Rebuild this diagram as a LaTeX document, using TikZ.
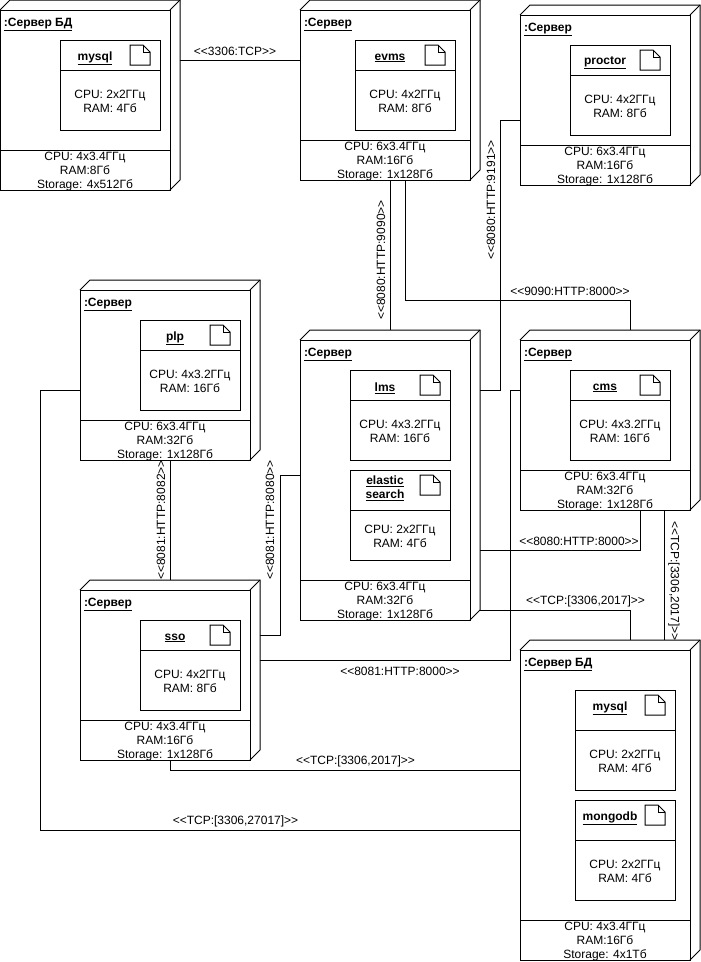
\documentclass[tikz,border=0pt]{standalone}
\usepackage{fontspec}
\setmainfont{Liberation Sans}
\newcommand{\srvnode}[8]{
  \node[srvface,minimum height=#4pt] (#1face) at (#2,#3+10) {};
  \node[srvouter,minimum height=#4pt+10pt] (#1) at (#2,#3) {};
  \draw (#1face.north west) -- ++(10,-10) -- (#1.north east) -- ++(0,#4) -- (#1face.south east);
  \draw (#1face.north east) -- (#1.north east);
  \draw (#1face.south west) ++(0,-40) -- ++(170,0);
  \node[srvtitle] (#1title) at (#2+4,#3+26) {\underline{\textbf{#5}}};
  \node[align=center] (#1spec) at ([yshift=18.5pt]#1face.south) {CPU: #6\\RAM:#7\\Storage: #8};
}
\newcommand{\artnode}[8]{
  \node[artbox,minimum height=#4pt+#5pt] (#1) at (#2,#3) {};
  \draw (#2,#3+#4) -- ++(100,0);
  \node[align=center] (#1title) at (#2+35,#3+18) {#6};
  \draw (#2+70,#3+5) -- (#2+83,#3+5) -- (#2+90,#3+12) -- (#2+90,#3+25) -- (#2+70,#3+25) -- cycle;
  \draw (#2+83,#3+5) -- (#2+83,#3+12) -- (#2+90,#3+12);
  \node[align=center] (#1spec) at (#2+50,#3+#4+#5/2+1.5) {CPU: #7\\RAM: #8};
}
\begin{document}
\begin{tikzpicture}[x=1pt,y=-1pt,line width=1pt,
  every node/.style={font=\fontsize{12}{14}\selectfont,inner sep=0pt,outer sep=0pt},
  srvface/.style={draw,anchor=north west,minimum width=170pt},
  srvouter/.style={anchor=north west,minimum width=180pt},
  srvtitle/.style={anchor=base west},
  artbox/.style={draw,anchor=north west,minimum width=100pt},
  toplabel/.style={anchor=center},
  uplabel/.style={rotate=90},
  downlabel/.style={rotate=-90}]
\useasboundingbox (0,0) rectangle (701,962);

\srvnode{dbA}{0}{0}{180}{:Сервер БД}{4x3.4ГГц}{8Гб}{4x512Гб}
\artnode{mysqlA}{60}{40}{30}{60}{\underline{\textbf{mysql}}}{2x2ГГц}{4Гб}

\srvnode{evmssrv}{300}{0}{170}{:Сервер}{6x3.4ГГц}{16Гб}{1x128Гб}
\artnode{evms}{355}{40}{30}{60}{\underline{\textbf{evms}}}{4x2ГГц}{8Гб}

\srvnode{proctorsrv}{520}{5}{170}{:Сервер}{6x3.4ГГц}{16Гб}{1x128Гб}
\artnode{proctor}{570}{45}{30}{60}{\underline{\textbf{proctor}}}{4x2ГГц}{8Гб}

\srvnode{plpsrv}{80}{280}{170}{:Сервер}{6x3.4ГГц}{32Гб}{1x128Гб}
\artnode{plp}{140}{320}{30}{60}{\underline{\textbf{plp}}}{4x3.2ГГц}{16Гб}

\srvnode{lmssrv}{300}{330}{280}{:Сервер}{6x3.4ГГц}{32Гб}{1x128Гб}
\artnode{lms}{350}{370}{30}{60}{\underline{\textbf{lms}}}{4x3.2ГГц}{16Гб}
\artnode{elastic}{350}{470}{40}{50}{\underline{\textbf{elastic}}\\\underline{\textbf{search}}}{2x2ГГц}{4Гб}

\srvnode{cmssrv}{520}{330}{170}{:Сервер}{6x3.4ГГц}{32Гб}{1x128Гб}
\artnode{cms}{570}{370}{30}{60}{\underline{\textbf{cms}}}{4x3.2ГГц}{16Гб}

\srvnode{ssosrv}{80}{580}{170}{:Сервер}{4x3.4ГГц}{16Гб}{1x128Гб}
\artnode{sso}{140}{620}{30}{60}{\underline{\textbf{sso}}}{4x2ГГц}{8Гб}

\srvnode{dbB}{520}{640}{310}{:Сервер БД}{4x3.4ГГц}{16Гб}{4x1Тб}
\artnode{mysqlB}{575}{690}{40}{60}{\underline{\textbf{mysql}}}{2x2ГГц}{4Гб}
\artnode{mongodb}{575}{800}{40}{60}{\underline{\textbf{mongodb}}}{2x2ГГц}{4Гб}

\draw (dbA.east |- 0,60) -- (evmssrv.west |- 0,60);
\draw (evmssrv.south) -- (lmssrv.north);
\draw (evmssrv.south -| 405,0) -- (405,300) -- (630,300) -- (cmssrv.north -| 630,0);
\draw (proctorsrv.west |- 0,120) -- (500,120) -- (500,390) -- (lmssrv.east |- 0,390);
\draw (plpsrv.south) -- (ssosrv.north);
\draw (ssosrv.east |- 0,635) -- (280,635) -- (280,475) -- (lmssrv.west |- 0,475);
\draw (ssosrv.east |- 0,660) -- (510,660) -- (510,390) -- (cmssrv.west |- 0,390);
\draw (lmssrv.east |- 0,550) -- (640,550) -- (cmssrv.south -| 640,0);
\draw (lmssrv.east |- 0,610) -- (630,610) -- (dbB.north -| 630,0);
\draw (cmssrv.south -| 664,0) -- (dbB.north -| 664,0);
\draw (ssosrv.south) -- (170,770) -- (dbB.west |- 0,770);
\draw (plpsrv.west |- 0,390) -- (40,390) -- (40,830) -- (dbB.west |- 0,830);

\node[toplabel] (lblA) at (235,51) {<{}<3306:TCP>{}>};
\node[uplabel] (lblB) at (381,260) {<{}<8080:HTTP:9090>{}>};
\node[toplabel] (lblC) at (570,291) {<{}<9090:HTTP:8000>{}>};
\node[uplabel] (lblD) at (491,200) {<{}<8080:HTTP:9191>{}>};
\node[uplabel] (lblE) at (161,520) {<{}<8081:HTTP:8082>{}>};
\node[uplabel] (lblF) at (270,520) {<{}<8081:HTTP:8080>{}>};
\node[toplabel] (lblG) at (400,671) {<{}<8081:HTTP:8000>{}>};
\node[toplabel] (lblH) at (579,541) {<{}<8080:HTTP:8000>{}>};
\node[toplabel] (lblI) at (585.5,601) {<{}<TCP:[3306,2017]>{}>};
\node[downlabel] (lblJ) at (674,581) {<{}<TCP:[3306,2017]>{}>};
\node[toplabel] (lblK) at (355.5,761) {<{}<TCP:[3306,2017]>{}>};
\node[toplabel] (lblL) at (235.5,821) {<{}<TCP:[3306,27017]>{}>};
\end{tikzpicture}
\end{document}
